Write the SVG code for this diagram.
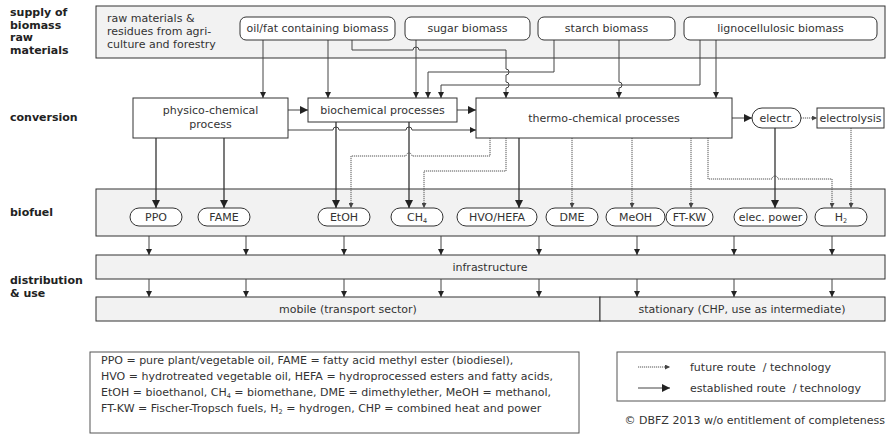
<svg xmlns="http://www.w3.org/2000/svg" width="889" height="437" viewBox="0 0 889 437">
<style>
text{font-family:"DejaVu Sans",Verdana,sans-serif;font-size:11px;fill:#333}
.lbl{font-weight:bold;font-size:11px;fill:#222}
.m{text-anchor:middle}
.band{fill:#f2f2f2;stroke:#333;stroke-width:1}
.box{fill:#fff;stroke:#333;stroke-width:1}
.ln{fill:none;stroke:#444;stroke-width:1}
.lt{fill:none;stroke:#333;stroke-width:1.3}
.dt{fill:none;stroke:#555;stroke-width:1;stroke-dasharray:1.2 0.8}
.sub{font-size:6.5px}
</style>
<defs>
<marker id="a" viewBox="0 0 10 10" refX="10" refY="5" markerWidth="7" markerHeight="6" markerUnits="userSpaceOnUse" orient="auto"><path d="M0,0 L10,5 L0,10 z" fill="#222"/></marker>
<marker id="b" viewBox="0 0 10 10" refX="10" refY="5" markerWidth="9" markerHeight="8" markerUnits="userSpaceOnUse" orient="auto"><path d="M0,0 L10,5 L0,10 z" fill="#222"/></marker>
<marker id="d" viewBox="0 0 10 10" refX="10" refY="5" markerWidth="5" markerHeight="5" markerUnits="userSpaceOnUse" orient="auto"><path d="M0,0 L10,5 L0,10 z" fill="#444"/></marker>
</defs>
<rect width="889" height="437" fill="#fff"/>

<g id="row-labels">
<text class="lbl" x="10" y="16">supply of</text>
<text class="lbl" x="10" y="28.5">biomass</text>
<text class="lbl" x="10" y="41">raw</text>
<text class="lbl" x="10" y="53.5">materials</text>
<text class="lbl" x="10" y="121">conversion</text>
<text class="lbl" x="10" y="216">biofuel</text>
<text class="lbl" x="10" y="284">distribution</text>
<text class="lbl" x="10" y="297">&amp; use</text>
</g>

<g id="supply-band">
<rect class="band" x="96" y="6" width="789" height="52"/>
<text x="107" y="22">raw materials &amp;</text>
<text x="107" y="35">residues from agri-</text>
<text x="107" y="48">culture and forestry</text>
</g>

<g id="bands">
<rect id="biofuel-band" class="band" x="96" y="189" width="789" height="47"/>
<g id="infrastructure"><rect class="band" x="96" y="255" width="789" height="24"/><text class="m" x="490" y="271">infrastructure</text></g>
<g id="mobile"><rect class="band" x="96" y="297" width="504" height="24"/><text class="m" x="348" y="313">mobile (transport sector)</text></g>
<g id="stationary"><rect class="band" x="600" y="297" width="285" height="24"/><text class="m" x="742" y="313">stationary (CHP, use as intermediate)</text></g>
</g>

<g id="connectors">
<path class="ln" marker-end="url(#a)" d="M263,40 V98"/>
<path class="ln" marker-end="url(#a)" d="M328,40 V98"/>
<path class="ln" marker-end="url(#a)" d="M352,40 V50 H413 A3,3 0 0 1 419,50 H506 V69 A3,3 0 0 1 506,75 V82 A3,3 0 0 1 506,88 V98"/>
<path class="ln" marker-end="url(#a)" d="M416,40 V98"/>
<path class="ln" marker-end="url(#a)" d="M554,40 V72 H428 V98"/>
<path class="ln" marker-end="url(#a)" d="M619,40 V82 A3,3 0 0 1 619,88 V98"/>
<path class="ln" marker-end="url(#a)" d="M700,40 V85 H441 V98"/>
<path class="ln" marker-end="url(#a)" d="M716,40 V98"/>
<path class="ln" marker-end="url(#b)" d="M288,110 H308"/>
<path class="ln" marker-end="url(#b)" d="M457,110 H476"/>
<path class="ln" marker-end="url(#a)" d="M288,130 H333 A3,3 0 0 1 339,130 H406 A3,3 0 0 1 412,130 H476"/>
<path class="ln" marker-end="url(#b)" d="M732,118 H752"/>
<path class="dt" marker-end="url(#d)" d="M801,118 H817"/>
<path class="lt" marker-end="url(#b)" d="M156,138 V208"/>
<path class="lt" marker-end="url(#b)" d="M224,138 V208"/>
<path class="lt" marker-end="url(#b)" d="M336,122 V208"/>
<path class="lt" marker-end="url(#b)" d="M409,122 V208"/>
<path class="dt" marker-end="url(#d)" d="M490,138 V156 H412 A3,3 0 0 0 406,156 H351 V208"/>
<path class="dt" marker-end="url(#d)" d="M506,138 V171 H424 V208"/>
<path class="lt" marker-end="url(#b)" d="M519,138 V208"/>
<path class="dt" marker-end="url(#d)" d="M572,138 V208"/>
<path class="dt" marker-end="url(#d)" d="M632,138 V208"/>
<path class="dt" marker-end="url(#d)" d="M691,138 V208"/>
<path class="dt" marker-end="url(#d)" d="M708,138 V179 H772 A3,3 0 0 1 778,179 H832 V208"/>
<path class="lt" marker-end="url(#b)" d="M775,128 V208"/>
<path class="dt" marker-end="url(#d)" d="M851,128 V208"/>
<g class="ln">
<path marker-end="url(#a)" d="M149,236 V255"/><path marker-end="url(#a)" d="M246,236 V255"/><path marker-end="url(#a)" d="M344,236 V255"/><path marker-end="url(#a)" d="M441,236 V255"/><path marker-end="url(#a)" d="M539,236 V255"/><path marker-end="url(#a)" d="M637,236 V255"/><path marker-end="url(#a)" d="M734,236 V255"/><path marker-end="url(#a)" d="M832,236 V255"/>
<path marker-end="url(#a)" d="M149,279 V297"/><path marker-end="url(#a)" d="M246,279 V297"/><path marker-end="url(#a)" d="M344,279 V297"/><path marker-end="url(#a)" d="M441,279 V297"/><path marker-end="url(#a)" d="M539,279 V297"/><path marker-end="url(#a)" d="M637,279 V297"/><path marker-end="url(#a)" d="M734,279 V297"/><path marker-end="url(#a)" d="M832,279 V297"/>
</g>
</g>

<g id="oilfat"><rect class="box" x="240" y="17" width="155" height="23" rx="6"/><text class="m" x="317.5" y="32">oil/fat containing biomass</text></g>
<g id="sugar"><rect class="box" x="405" y="17" width="125" height="23" rx="6"/><text class="m" x="467.5" y="32">sugar biomass</text></g>
<g id="starch"><rect class="box" x="538" y="17" width="137" height="23" rx="6"/><text class="m" x="606.5" y="32">starch biomass</text></g>
<g id="ligno"><rect class="box" x="684" y="17" width="193" height="23" rx="6"/><text class="m" x="780.5" y="32">lignocellulosic biomass</text></g>

<g id="physico"><rect class="box" x="133" y="98" width="155" height="40"/><text class="m" x="210.5" y="114">physico-chemical</text><text class="m" x="210.5" y="128">process</text></g>
<g id="biochem"><rect class="box" x="308" y="98" width="149" height="24"/><text class="m" x="382.5" y="114">biochemical processes</text></g>
<g id="thermo"><rect class="box" x="476" y="98" width="256" height="40"/><text class="m" x="604" y="122">thermo-chemical processes</text></g>
<g id="electr"><rect class="box" x="752" y="108" width="49" height="20" rx="10" stroke-width="1.3"/><text class="m" x="776.5" y="122">electr.</text></g>
<g id="electrolysis"><rect class="box" x="817" y="108" width="67" height="20"/><text class="m" x="850.5" y="122">electrolysis</text></g>

<g id="PPO"><rect class="box" x="130" y="208" width="52" height="18" rx="9"/><text class="m" x="156" y="221">PPO</text></g>
<g id="FAME"><rect class="box" x="198" y="208" width="52" height="18" rx="9"/><text class="m" x="224" y="221">FAME</text></g>
<g id="EtOH"><rect class="box" x="318" y="208" width="52" height="18" rx="9"/><text class="m" x="344" y="221">EtOH</text></g>
<g id="CH4"><rect class="box" x="391" y="208" width="52" height="18" rx="9"/><text class="m" x="417" y="221">CH<tspan class="sub" dy="2">4</tspan></text></g>
<g id="HVO"><rect class="box" x="457" y="208" width="80" height="18" rx="9"/><text class="m" x="497" y="221">HVO/HEFA</text></g>
<g id="DME"><rect class="box" x="546" y="208" width="52" height="18" rx="9"/><text class="m" x="572" y="221">DME</text></g>
<g id="MeOH"><rect class="box" x="606" y="208" width="59" height="18" rx="9"/><text class="m" x="635.5" y="221">MeOH</text></g>
<g id="FTKW"><rect class="box" x="666" y="208" width="47" height="18" rx="9"/><text class="m" x="689.5" y="221">FT-KW</text></g>
<g id="elecpower"><rect class="box" x="734" y="208" width="73" height="18" rx="9"/><text class="m" x="770.5" y="221">elec. power</text></g>
<g id="H2"><rect class="box" x="815" y="208" width="52" height="18" rx="9"/><text class="m" x="841" y="221">H<tspan class="sub" dy="2">2</tspan></text></g>

<g id="abbrev-legend">
<rect x="90" y="352" width="489" height="81" fill="#fff" stroke="#555"/>
<text x="101" y="364">PPO = pure plant/vegetable oil, FAME = fatty acid methyl ester (biodiesel),</text>
<text x="101" y="380">HVO = hydrotreated vegetable oil, HEFA = hydroprocessed esters and fatty acids,</text>
<text x="101" y="396">EtOH = bioethanol, CH<tspan class="sub" dy="2">4</tspan><tspan dy="-2"> = biomethane, DME = dimethylether, MeOH = methanol,</tspan></text>
<text x="101" y="412">FT-KW = Fischer-Tropsch fuels, H<tspan class="sub" dy="2">2</tspan><tspan dy="-2"> = hydrogen, CHP = combined heat and power</tspan></text>
</g>

<g id="route-legend">
<rect x="617" y="352" width="268" height="49" fill="#fff" stroke="#555"/>
<path class="dt" marker-end="url(#d)" d="M638,367 H670"/>
<path class="ln" stroke="#222" marker-end="url(#b)" d="M638,388 H670"/>
<text x="690" y="371">future route&#160; / technology</text>
<text x="690" y="392">established route&#160; / technology</text>
</g>

<text x="885" y="424" text-anchor="end">© DBFZ 2013 w/o entitlement of completeness</text>
</svg>
